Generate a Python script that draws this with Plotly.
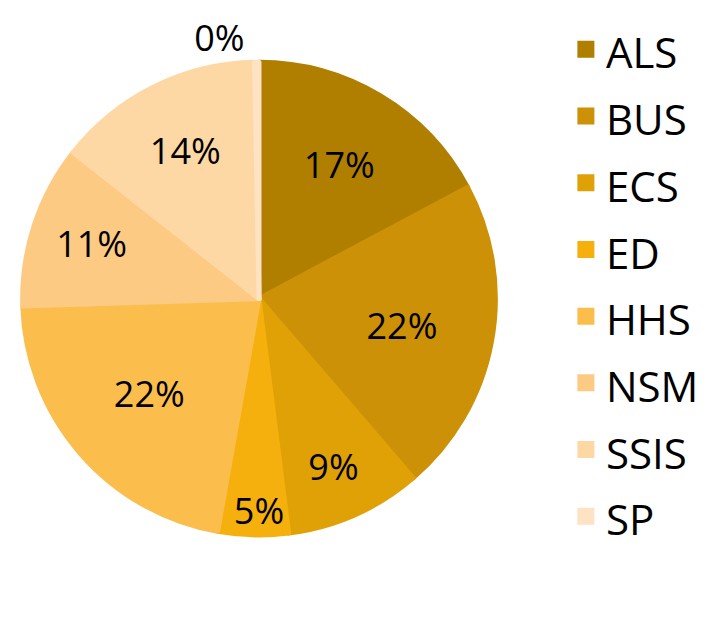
import plotly.graph_objects as go

categories = ["ALS", "BUS", "ECS", "ED", "HHS", "NSM", "SSIS", "SP"]
shares = [17.2, 21.5, 9.3, 4.8, 21.7, 11.1, 14.1, 0.3]
colors = ["#B07F00", "#CC9106", "#E0A106", "#F5B00D",
          "#FBBE4C", "#FDCA83", "#FDD8A5", "#FDE2C3"]
text_positions = ["inside"] * 7 + ["outside"]

W, H = 718, 627
# page has an 8px body margin, so place in figure coordinates
cx, cy, r = 251, 289, 237.5

legend_labels = ['<span style="font-size:42px">%s</span>' % c for c in categories]

fig = go.Figure(go.Pie(
    labels=legend_labels,
    values=shares,
    sort=False,
    direction="clockwise",
    rotation=0,
    marker=dict(colors=colors, line=dict(color=colors, width=5)),
    texttemplate="%{percent:.0%}",
    textposition=text_positions,
    insidetextorientation="horizontal",
    textfont=dict(size=36, color="black", family="Open Sans"),
    hovertemplate="%{label}: %{value}<extra></extra>",
    domain=dict(x=[(cx - r) / W, (cx + r) / W],
                y=[(H - cy - r) / H, (H - cy + r) / H]),
))

fig.update_layout(
    width=W, height=H,
    margin=dict(l=0, r=0, t=0, b=0),
    paper_bgcolor="white",
    plot_bgcolor="white",
    font=dict(family="Open Sans", color="black"),
    uniformtext=dict(minsize=36, mode="show"),
    legend=dict(
        x=0.777, xanchor="left",
        y=1.0, yanchor="top",
        font=dict(size=49, family="Open Sans", color="black"),
        bgcolor="rgba(0,0,0,0)",
    ),
)

fig.write_html("out.html")
